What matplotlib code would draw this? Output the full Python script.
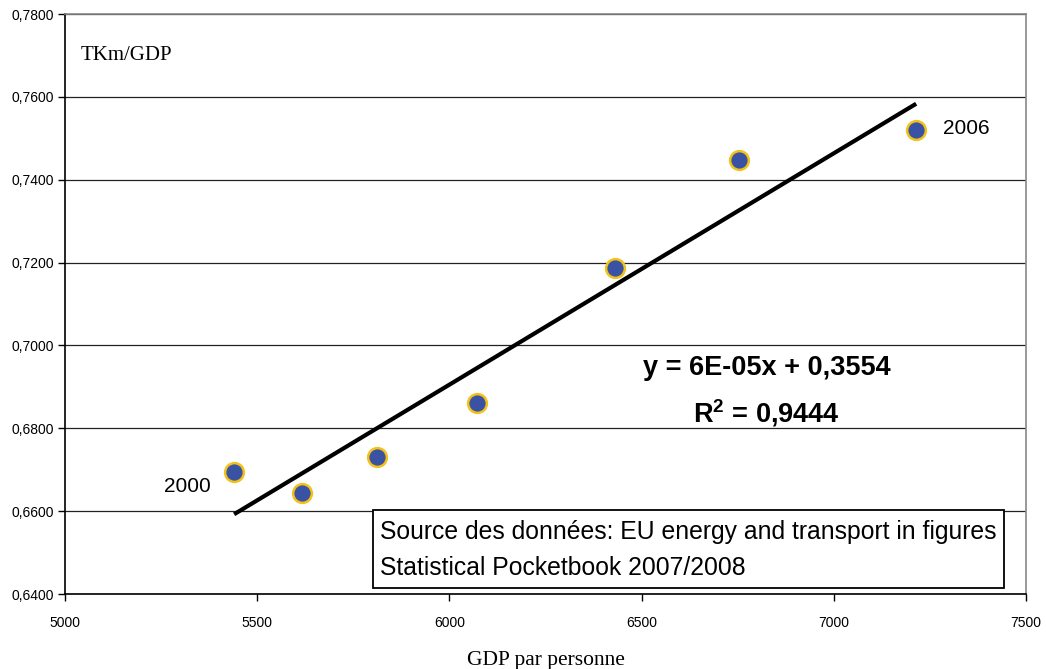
import numpy as np
import matplotlib
matplotlib.use("Agg")
import matplotlib.pyplot as plt
from matplotlib.patches import Rectangle
from matplotlib.ticker import FuncFormatter

# GDP per person vs TKm/GDP, 2000..2006
years = [2000, 2001, 2002, 2003, 2004, 2005, 2006]
gdp = [5440, 5617, 5811, 6072, 6430, 6752, 7214]
tkm_gdp = [0.6694, 0.6644, 0.6731, 0.6862, 0.7186, 0.7447, 0.7520]

x_ticks = [5000, 5500, 6000, 6500, 7000, 7500]
y_ticks = [0.64, 0.66, 0.68, 0.70, 0.72, 0.74, 0.76, 0.78]

equation = "y = 6E-05x + 0,3554"
r2_label = "R$^{\\mathregular{2}}$ = 0,9444"
source_lines = [
    "Source des données: EU energy and transport in figures",
    "Statistical Pocketbook 2007/2008",
]

SANS = "Liberation Sans"
SERIF = "Liberation Serif"


def comma_fmt(v, _pos):
    return f"{v:.4f}".replace(".", ",")


fig = plt.figure(figsize=(10.46, 6.69), dpi=100)
ax = fig.add_axes([0.0621, 0.1121, 0.9189, 0.8669])

ax.set_xlim(x_ticks[0], x_ticks[-1])
ax.set_ylim(y_ticks[0], y_ticks[-1])
ax.set_xticks(x_ticks)
ax.set_yticks(y_ticks)
ax.yaxis.set_major_formatter(FuncFormatter(comma_fmt))
for lab in ax.get_xticklabels() + ax.get_yticklabels():
    lab.set_fontfamily(SANS)
    lab.set_fontsize(10)
ax.tick_params(axis="both", direction="out", length=5, width=1, color="black", pad=3)
ax.tick_params(axis="x", pad=11)

ax.grid(axis="y", color="#222222", linewidth=0.9)
ax.set_axisbelow(True)
for side in ("left", "bottom"):
    ax.spines[side].set_color("black")
    ax.spines[side].set_linewidth(1.2)
for side in ("top", "right"):
    ax.spines[side].set_color("#888888")
    ax.spines[side].set_linewidth(1.2)

# linear trend
coef = np.polyfit(gdp, tkm_gdp, 1)
xs = np.array([min(gdp), max(gdp)])
ax.plot(xs, np.polyval(coef, xs), color="black", linewidth=3, zorder=3,
        solid_capstyle="butt")

ax.plot(gdp, tkm_gdp, linestyle="none", marker="o", markersize=13.5,
        markerfacecolor="#3A52A3", markeredgecolor="#F2C219",
        markeredgewidth=1.8, zorder=4)

ax.annotate(str(years[0]), (gdp[0], tkm_gdp[0]), xytext=(-17, -10),
            textcoords="offset points", ha="right", va="center",
            fontsize=15, fontfamily=SANS)
ax.annotate(str(years[-1]), (gdp[-1], tkm_gdp[-1]), xytext=(19, 1),
            textcoords="offset points", ha="left", va="center",
            fontsize=15, fontfamily=SANS)

ax.text(0.730, 0.390, equation, transform=ax.transAxes, ha="center",
        va="center", fontsize=19.5, fontweight="bold", fontfamily=SANS)
ax.text(0.730, 0.312, r2_label, transform=ax.transAxes, ha="center",
        va="center", fontsize=19.5, fontweight="bold", fontfamily=SANS)

ax.add_patch(Rectangle((0.3205, 0.0103), 0.6565, 0.1345, transform=ax.transAxes,
                       facecolor="white", edgecolor="black", linewidth=1.3,
                       zorder=5))
ax.text(0.328, 0.107, source_lines[0], transform=ax.transAxes, ha="left",
        va="center", fontsize=17.8, fontfamily=SANS, zorder=6)
ax.text(0.328, 0.045, source_lines[1], transform=ax.transAxes, ha="left",
        va="center", fontsize=17.8, fontfamily=SANS, zorder=6)

ax.text(0.016, 0.928, "TKm/GDP", transform=ax.transAxes, ha="left",
        va="center", fontsize=15, fontfamily=SERIF)
fig.text(0.522, 0.013, "GDP par personne", ha="center", va="center",
         fontsize=15.5, fontfamily=SERIF)

fig.savefig("out.png", dpi=100)
